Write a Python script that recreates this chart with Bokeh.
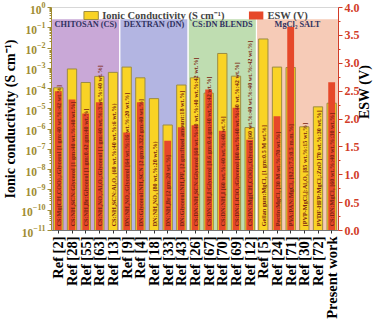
import math
from bokeh.plotting import figure
from bokeh.models import (Range1d, LinearScale, LinearAxis, FixedTicker, Legend, LegendItem,
                          ColumnDataSource, NumeralTickFormatter, LogTickFormatter)
from bokeh.core.properties import value
from bokeh.embed import file_html
from bokeh.resources import INLINE

# ---------------- data ----------------
refs = ["Ref [2]", "Ref [28]", "Ref [55]", "Ref [63]", "Ref [13]",
        "Ref [9]", "Ref [4]", "Ref [18]", "Ref [33]", "Ref [43]",
        "Ref [26]", "Ref [67]", "Ref [70]", "Ref [69]", "Ref [12]",
        "Ref [5]", "Ref [24]", "Ref [71]", "Ref [30]", "Ref [72]", "Present work"]

conductivity = [1.1e-4, 9.3e-4, 2.0e-4, 4.0e-4, 6.3e-4,
                1.15e-3, 3.4e-4, 3.2e-5, 1.6e-6, 1.5e-4,
                3.4e-4, 6.0e-5, 5.4e-3, 4.1e-4, 1.2e-6,
                2.8e-2, 1.15e-3, 1.1e-3, 1.3e-6, 1.26e-5, 1.9e-5]

esw = [2.5, 2.35, 2.1, 2.3, None,
       1.76, 2.3, None, 1.61, 1.85,
       1.89, 2.53, 1.79, 2.2, 1.63,
       None, 2.05, 3.65, None, None, 2.66]

compositions = [
    "CS:Mg(CH\u2083COO)\u2082:Glycerol [1 gm:40 wt.%:42 wt.%]",
    "CS:NH\u2084SCN:Glycerol [1 gm:40 wt.%:40 wt.%]",
    "CS:NH\u2084Br:Glycerol [1 gm:0.42 gm:40 wt.%]",
    "CS:NH\u2084NO\u2083:Al\u2082O\u2083:Glycerol [1 gm:40 wt.%:3 wt.%:40 wt.%]",
    "CS:NH\u2084SCN:Al\u2082O\u2083 (60 wt.%:40 wt.%:6 wt.%)",
    "DN:NH\u2084NO\u2083:Glycerol [64 wt.%:16 wt.%:20 wt.%]",
    "DN:Glycerol:NH\u2084SCN [2 gm:0.322 gm:40 wt.%]",
    "DN:NH\u2084NO\u2083 (80 wt.%:20 wt.%)",
    "DN:NH\u2084Br [2 gm:20 wt.%]",
    "DN:Glycerol:NH\u2084PF\u2086 [2 gm:fixed amount:18 wt.%]",
    "CS:DN:NH\u2084SCN:Glycerol [60 wt.%:40 wt.%:40 wt.%:42 wt.%]",
    "CS:DN:NH\u2084I:Glycerol [0.6 gm:0.4 gm:40 wt.%:42 wt.%]",
    "CS:DN:NH\u2084I [60 wt.%:40 wt.%:40 wt.%]",
    "CS:DN:LiClO\u2084:Glycerol [60 wt.%:40 wt.%:40 wt.%:42 wt.%]",
    "CS:DN:Mg(CH\u2083COO)\u2082:Glycerol [60 wt.%:40 wt.%:40 wt.%:42 wt.%]",
    "Gellan gum:MgCl\u2082 [1 gm:0.5 M wt.%]",
    "Pectin:MgCl\u2082 [30 M wt.%:70 wt.%]",
    "PVA:PAN:MgCl\u2082 [92.5:7.5:0.5 m.m.%]",
    "[PVP-MgCl\u2082]:Al\u2082O\u2083 [85 wt.%:15 wt.%]",
    "PVDF-HFP:MgCl\u2082:ZnO [70 wt.%:30 wt.%]",
    "CS:DN:MgCl\u2082 [60 wt.%:40 wt.%:30 wt.%]",
]

group_names = ["CHITOSAN (CS)", "DEXTRAN (DN)", "CS:DN BLENDS", "MgCl\u2082 SALT"]
group_sizes = [5, 5, 5, 6]
group_colors = ["#c9a8d7", "#b3b5e2", "#bfddb1", "#f6cbb7"]

esw_ticks = [0.0, 0.5, 1.0, 1.5, 2.0, 2.5, 3.0, 3.5, 4.0]

# ---------------- styling ----------------
SERIF = "Liberation Serif"
YELLOW = "#f9d325"
YELLOW_LINE = "#9c8c44"
RED = "#e6482a"
OLIVE = "#a08c32"
AXIS_RED = "#d23c28"
NAVY = "#2f3160"
TXT = "#7b2410"

LOG_MIN = 1e-11
LOG_MAX = 1.0
BAND_TOP = 10 ** -0.55

xs = list(range(len(refs)))
n = len(refs)

p = figure(width=382, height=321,
           x_range=Range1d(-0.5, n - 0.5),
           y_range=Range1d(LOG_MIN, LOG_MAX),
           y_axis_type="log",
           output_backend="svg", toolbar_location=None,
           min_border_left=30, min_border_right=20,
           min_border_top=7, min_border_bottom=60)
p.extra_y_ranges = {"esw": Range1d(esw_ticks[0], esw_ticks[-1])}
p.extra_y_scales = {"esw": LinearScale()}
p.outline_line_color = None
p.xgrid.visible = False
p.ygrid.visible = False
p.background_fill_color = "white"

# legend band
p.quad(left=[-0.5], right=[n - 0.5], bottom=[BAND_TOP], top=[LOG_MAX],
       fill_color="white", line_color="#b0b0b0", line_width=1)

# group regions
lefts, rights, centers = [], [], []
start = -0.5
for g in group_sizes:
    lefts.append(start)
    rights.append(start + g)
    centers.append(start + g / 2)
    start += g
p.quad(left=lefts, right=rights, bottom=[LOG_MIN] * len(lefts), top=[BAND_TOP] * len(lefts),
       fill_color=group_colors, line_color="white", line_width=1.2)
p.text(x=centers, y=[10 ** -0.82] * len(centers), text=group_names,
       text_align="center", text_baseline="middle",
       text_font=value(SERIF), text_font_style="bold", text_font_size="8.3px",
       text_color=NAVY)

# bars
ysrc = ColumnDataSource(dict(x=xs, top=conductivity, bottom=[LOG_MIN] * len(xs)))
ybar = p.vbar(x="x", top="top", bottom="bottom", width=0.68, source=ysrc,
              fill_color=YELLOW, line_color=YELLOW_LINE, line_width=1)

ex = [x for x, e in zip(xs, esw) if e is not None]
ev = [e for e in esw if e is not None]
rsrc = ColumnDataSource(dict(x=ex, top=ev, bottom=[0] * len(ex)))
rbar = p.vbar(x="x", top="top", bottom="bottom", width=0.5, source=rsrc,
              fill_color=RED, line_color=None, y_range_name="esw")

# composition labels inside bars
p.text(x=xs, y=[1.6e-11] * len(xs), text=compositions, angle=math.pi / 2,
       text_align="left", text_baseline="middle",
       text_font=value(SERIF), text_font_style="bold", text_font_size="6.2px",
       text_color=TXT)

# x axis
p.xaxis.ticker = FixedTicker(ticks=xs)
p.xaxis.major_label_overrides = {i: r for i, r in zip(xs, refs)}
p.xaxis.major_label_orientation = math.pi / 2
p.xaxis.major_label_text_font = SERIF
p.xaxis.major_label_text_font_style = "bold"
p.xaxis.major_label_text_font_size = "14.5px"
p.xaxis.major_label_text_color = "black"
p.xaxis.major_label_standoff = 3
p.xaxis.major_tick_out = 3
p.xaxis.major_tick_in = 0
p.xaxis.minor_tick_line_color = None
p.xaxis.axis_line_color = "#777777"
p.xaxis.major_tick_line_color = "#333333"

# left log axis
decades = [10.0 ** k for k in range(-11, 1)]
minors = [m * 10.0 ** k for k in range(-11, 0) for m in range(2, 10)]
p.yaxis.ticker = FixedTicker(ticks=decades, minor_ticks=minors)
p.yaxis.formatter = LogTickFormatter()
p.yaxis.axis_label = "Ionic conductivity (S cm\u207b\u00b9)"
p.yaxis.axis_label_text_font = SERIF
p.yaxis.axis_label_text_font_style = "bold"
p.yaxis.axis_label_text_font_size = "14px"
p.yaxis.axis_label_text_color = "black"
p.yaxis.axis_label_standoff = 0
p.yaxis.major_label_text_font = SERIF
p.yaxis.major_label_text_font_style = "bold"
p.yaxis.major_label_text_font_size = "11.5px"
p.yaxis.major_label_text_color = OLIVE
p.yaxis.major_label_standoff = 2
p.yaxis.axis_line_color = OLIVE
p.yaxis.major_tick_line_color = OLIVE
p.yaxis.minor_tick_line_color = OLIVE
p.yaxis.major_tick_out = 4
p.yaxis.major_tick_in = 0
p.yaxis.minor_tick_out = 2
p.yaxis.minor_tick_in = 0

# right ESW axis (title reads bottom to top)
esw_minor = [(a + b) / 2 for a, b in zip(esw_ticks[:-1], esw_ticks[1:])]
raxis = LinearAxis(y_range_name="esw", axis_label="ESW (V)",
                   ticker=FixedTicker(ticks=esw_ticks, minor_ticks=esw_minor),
                   formatter=NumeralTickFormatter(format="0.0"))
raxis.axis_label_orientation = math.pi / 2
raxis.axis_label_text_font = SERIF
raxis.axis_label_text_font_style = "bold"
raxis.axis_label_text_font_size = "14px"
raxis.axis_label_text_color = "black"
raxis.axis_label_standoff = 2
raxis.major_label_text_font = SERIF
raxis.major_label_text_font_style = "bold"
raxis.major_label_text_font_size = "12px"
raxis.major_label_text_color = AXIS_RED
raxis.major_label_standoff = 2
raxis.axis_line_color = AXIS_RED
raxis.major_tick_line_color = AXIS_RED
raxis.minor_tick_line_color = AXIS_RED
raxis.major_tick_out = 4
raxis.major_tick_in = 0
raxis.minor_tick_out = 2
raxis.minor_tick_in = 0
p.add_layout(raxis, "right")

# legend
legend = Legend(items=[LegendItem(label="Ionic Conductivity (S cm\u207b\u00b9)", renderers=[ybar]),
                       LegendItem(label="ESW (V)", renderers=[rbar])],
                location="top_center", orientation="horizontal")
legend.margin = 1
legend.padding = 1
legend.spacing = 22
legend.glyph_width = 18
legend.glyph_height = 10
legend.label_height = 10
legend.label_standoff = 3
legend.label_text_font = SERIF
legend.label_text_font_style = "bold"
legend.label_text_font_size = "10.5px"
legend.border_line_color = None
legend.background_fill_alpha = 0
p.add_layout(legend)

open("out.html", "w").write(file_html(p, INLINE))
